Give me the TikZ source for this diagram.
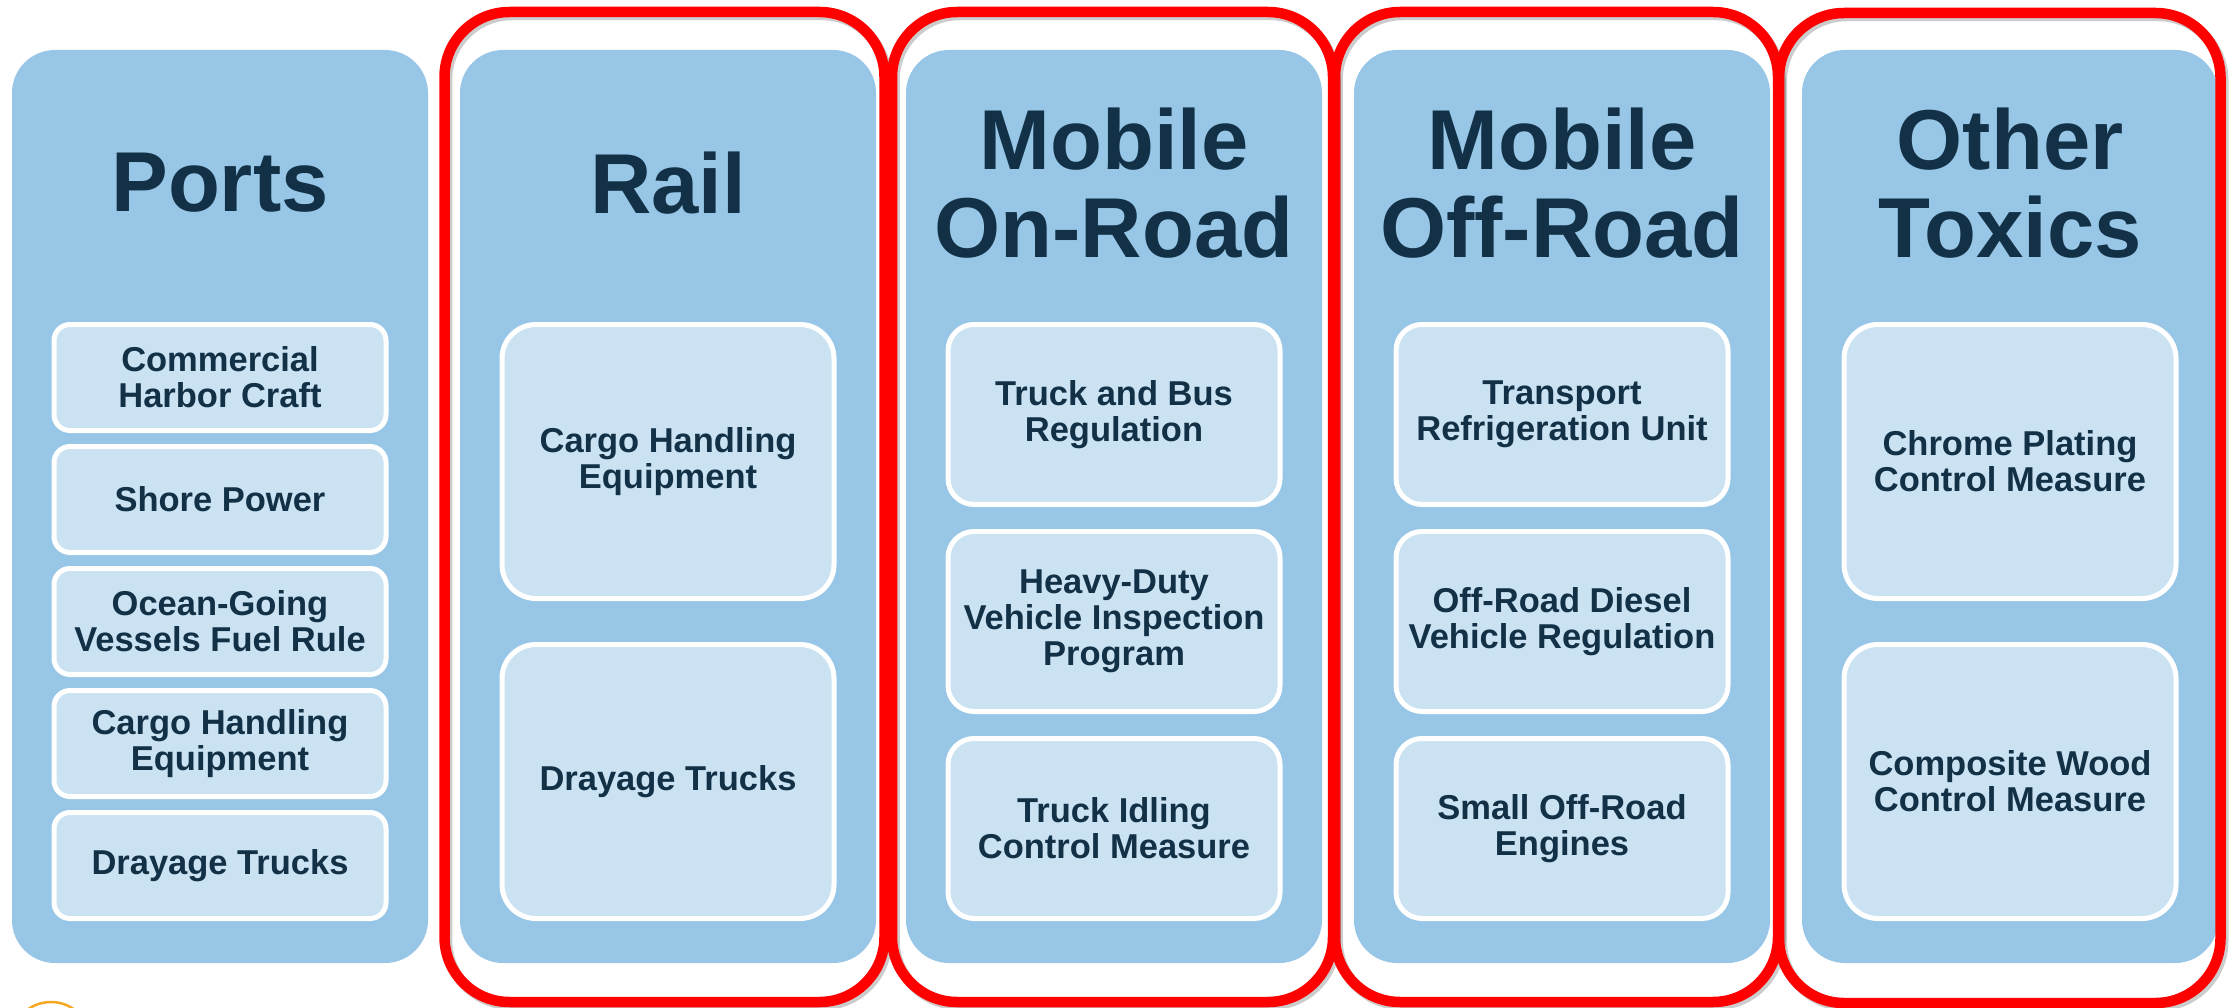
\documentclass[tikz,border=0pt]{standalone}
\usepackage{fontspec}
\setmainfont{Liberation Sans}
\definecolor{colblue}{HTML}{97C6E6}
\definecolor{boxblue}{HTML}{CAE2F2}
\definecolor{navy}{HTML}{123046}
\definecolor{redframe}{HTML}{FF0000}
\definecolor{logoorange}{HTML}{F7A823}
\begin{document}
\begin{tikzpicture}[x=1pt,y=-1pt,
 colbox/.style={fill=colblue, draw=none, rounded corners=43pt, minimum width=416pt, minimum height=913pt, inner sep=0pt},
 subbox/.style={fill=boxblue, draw=white, line width=5pt, minimum width=332pt, inner sep=0pt, align=center, text=navy, font=\fontsize{34.5}{36}\selectfont\bfseries},
 smallsub/.style={subbox, minimum height=106pt, rounded corners=16pt},
 midsub/.style={subbox, minimum height=180pt, rounded corners=26pt},
 tallsub/.style={subbox, minimum height=274pt, rounded corners=34pt},
 coltitle/.style={text=navy, align=center, font=\fontsize{85}{88}\selectfont\bfseries, inner sep=0pt},
 redbox/.style={draw=redframe, line width=10.5pt, rounded corners=65pt, inner sep=0pt, minimum height=990pt},
 shadowbox/.style={draw=black, draw opacity=0.2, line width=10.5pt, rounded corners=65pt, inner sep=0pt, minimum height=990pt},
]
\useasboundingbox[fill=white] (0,0) rectangle (2234,1008);

% columns
\node[colbox] (cports) at (220,506.5) {};
\node[colbox] (crail) at (668,506.5) {};
\node[colbox] (conroad) at (1114,506.5) {};
\node[colbox] (coffroad) at (1562,506.5) {};
\node[colbox] (ctoxics) at (2010,506.5) {};

% titles
\node[coltitle] (tports) at (220,183) {Ports};
\node[coltitle] (trail) at (668,183) {Rail};
\node[coltitle] (tonroad) at (1114,183) {Mobile\\On-Road};
\node[coltitle] (toffroad) at (1562,183) {Mobile\\Off-Road};
\node[coltitle] (ttoxics) at (2010,183) {Other\\Toxics};

% Ports items
\node[smallsub] (p1) at (220,377.5) {Commercial\\Harbor Craft};
\node[smallsub] (p2) at (220,499.5) {Shore Power};
\node[smallsub] (p3) at (220,621.5) {Ocean-Going\\Vessels Fuel Rule};
\node[smallsub] (p4) at (220,743.5) {Cargo Handling\\Equipment};
\node[smallsub] (p5) at (220,865.5) {Drayage Trucks};

% Rail items
\node[tallsub] (r1) at (668,461.5) {Cargo Handling\\Equipment};
\node[tallsub] (r2) at (668,781.5) {Drayage Trucks};

% Mobile On-Road items
\node[midsub] (n1) at (1114,414.5) {Truck and Bus\\Regulation};
\node[midsub] (n2) at (1114,621.5) {Heavy-Duty\\Vehicle Inspection\\Program};
\node[midsub] (n3) at (1114,828.5) {Truck Idling\\Control Measure};

% Mobile Off-Road items
\node[midsub] (o1) at (1562,414.5) {Transport\\Refrigeration Unit};
\node[midsub] (o2) at (1562,621.5) {Off-Road Diesel\\Vehicle Regulation};
\node[midsub] (o3) at (1562,828.5) {Small Off-Road\\Engines};

% Other Toxics items
\node[tallsub] (x1) at (2010,461.5) {Chrome Plating\\Control Measure};
\node[tallsub] (x2) at (2010,781.5) {Composite Wood\\Control Measure};

% frame shadows
\node[shadowbox, minimum width=440pt] (sh1) at (667,510) {};
\node[shadowbox, minimum width=441pt] (sh2) at (1115,510) {};
\node[shadowbox, minimum width=443pt] (sh3) at (1559,510) {};
\node[shadowbox, minimum width=441.5pt] (sh4) at (2002.5,511) {};

% red frames
\node[redbox, minimum width=440pt] (f1) at (664.5,507) {};
\node[redbox, minimum width=441pt] (f2) at (1112.5,507) {};
\node[redbox, minimum width=443pt] (f3) at (1556.5,507) {};
\node[redbox, minimum width=441.5pt] (f4) at (1999.75,508) {};

% cut-off logo at the bottom left
\node[draw=logoorange, circle, line width=2.5pt, minimum size=80pt, inner sep=0pt] (logo) at (51,1042) {};
\end{tikzpicture}
\end{document}
